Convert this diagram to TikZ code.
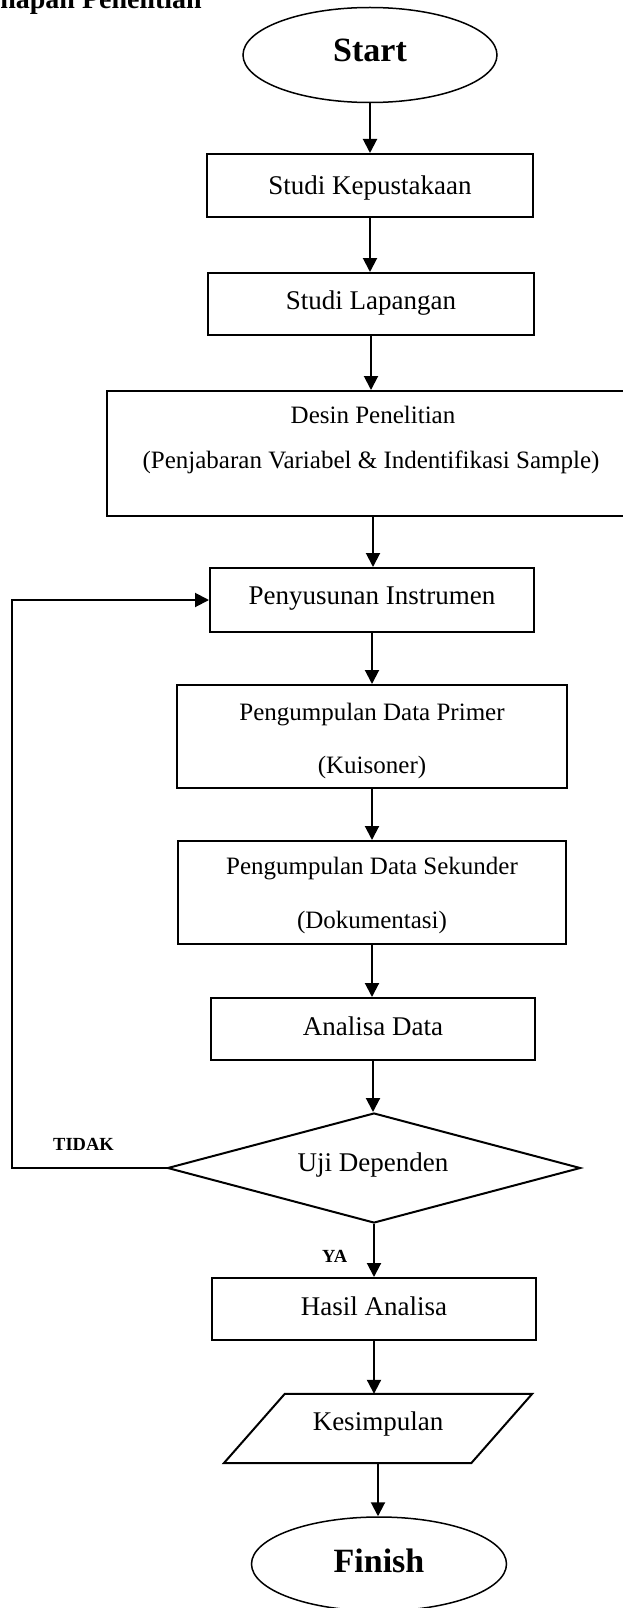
\documentclass[tikz,border=0pt]{standalone}
\usepackage{fontspec}
\setmainfont{Liberation Serif}
\usetikzlibrary{shapes.geometric,arrows.meta}
\newcommand\fszA{\fontsize{27pt}{30pt}\selectfont}
\newcommand\fszB{\fontsize{25pt}{28pt}\selectfont}
\newcommand\fszC{\bfseries\fontsize{34pt}{38pt}\selectfont}
\newcommand\fszD{\bfseries\fontsize{18.5pt}{20pt}\selectfont}
\newcommand\fszT{\bfseries\fontsize{28pt}{30pt}\selectfont}
\begin{document}
\begin{tikzpicture}[x=1pt,y=-1pt,
  box/.style={draw, line width=2pt, rectangle, inner sep=0pt},
  oval/.style={draw, line width=1.5pt, ellipse, inner sep=0pt},
  conn/.style={line width=2pt, -{Triangle[length=14pt,width=14pt]}},
  loopline/.style={line width=2pt, -{Triangle[length=14pt,width=14pt]}},
  txt/.style={anchor=base, inner sep=0pt, font=\fszA},
  txtb/.style={anchor=base, inner sep=0pt, font=\fszB},
  txtc/.style={anchor=base, inner sep=0pt, font=\fszC},
  lbl/.style={anchor=base west, inner sep=0pt, font=\fszD}]
\useasboundingbox (0,0) rectangle (623,1608);
\clip (0,0) rectangle (623,1608);
% title (cropped at the top edge, as in the reference)
\node[anchor=base east, inner sep=0pt, font=\fszT] (title) at (202,9) {Tahapan Penelitian};
% shapes
\node[oval, minimum width=254pt, minimum height=95pt] (start) at (370,55) {};
\node[box, minimum width=326pt, minimum height=63pt] (kep) at (370,185.5) {};
\node[box, minimum width=326pt, minimum height=62pt] (lap) at (371,304) {};
\node[box, minimum width=532pt, minimum height=125pt] (desin) at (373,453.5) {};
\node[box, minimum width=324pt, minimum height=64pt] (pen) at (372,600) {};
\node[box, minimum width=390pt, minimum height=103pt] (pri) at (372,736.5) {};
\node[box, minimum width=388pt, minimum height=103pt] (sek) at (372,892.5) {};
\node[box, minimum width=324pt, minimum height=62pt] (ana) at (373,1029) {};
\node[draw, line width=2pt, diamond, inner sep=0pt, minimum width=413pt, minimum height=110pt] (uji) at (374,1168) {};
\node[box, minimum width=324pt, minimum height=62pt] (has) at (374,1309) {};
\node[rectangle, inner sep=0pt, minimum width=308pt, minimum height=69pt] (kes) at (378,1428.5) {};
\draw[line width=2pt, line join=miter] ([xshift=61pt]kes.north west) -- (kes.north east) -- ([xshift=-61pt]kes.south east) -- (kes.south west) -- cycle;
\node[oval, minimum width=255pt, minimum height=94pt] (fin) at (379,1564) {};
% texts
\node[txtc] (tstart) at (370,62) {Start};
\node[txt] (tkep) at (370,194) {Studi Kepustakaan};
\node[txt] (tlap) at (371,309) {Studi Lapangan};
\node[txtb] (tdes1) at (373,423) {Desin Penelitian};
\node[txtb] (tdes2) at (371,468) {(Penjabaran Variabel \& Indentifikasi Sample)};
\node[txt] (tpen) at (372,604) {Penyusunan Instrumen};
\node[txtb] (tpri1) at (372,720) {Pengumpulan Data Primer};
\node[txtb] (tpri2) at (372,773) {(Kuisoner)};
\node[txtb] (tsek1) at (372,874) {Pengumpulan Data Sekunder};
\node[txtb] (tsek2) at (372,928) {(Dokumentasi)};
\node[txt] (tana) at (373,1035) {Analisa Data};
\node[txt] (tuji) at (373,1171) {Uji Dependen};
\node[txt] (thas) at (374,1315) {Hasil Analisa};
\node[txt] (tkes) at (378,1430) {Kesimpulan};
\node[txtc] (tfin) at (379,1572) {Finish};
\node[lbl] (tidak) at (53,1150) {TIDAK};
\node[lbl] (ya) at (322,1262) {YA};
% connectors
\coordinate (lx) at (12,0);
\draw[conn] (start.south) -- (start.south |- kep.north);
\draw[conn] (kep.south) -- (kep.south |- lap.north);
\draw[conn] (lap.south) -- (lap.south |- desin.north);
\draw[conn] (desin.south) -- (desin.south |- pen.north);
\draw[conn] (pen.south) -- (pen.south |- pri.north);
\draw[conn] (pri.south) -- (pri.south |- sek.north);
\draw[conn] (sek.south) -- (sek.south |- ana.north);
\draw[conn] (ana.south) -- (ana.south |- uji.north);
\draw[conn] (uji.south) -- (uji.south |- has.north);
\draw[conn] (has.south) -- (has.south |- kes.north);
\draw[conn] (kes.south) -- (kes.south |- fin.north);
\draw[loopline, line join=miter] (uji.west) -| (lx |- pen.west) -- (pen.west);
\end{tikzpicture}
\end{document}
